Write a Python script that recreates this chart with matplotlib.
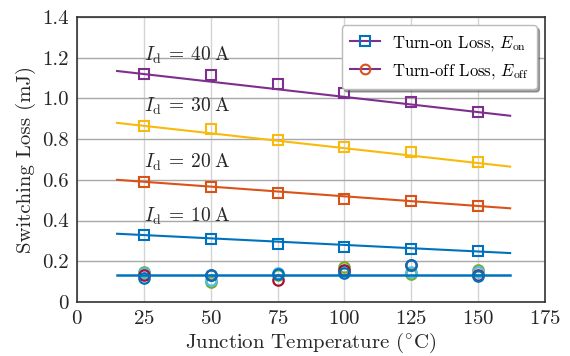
import matplotlib
matplotlib.use("Agg")
import matplotlib.pyplot as plt
from matplotlib.lines import Line2D
import numpy as np

plt.rcParams['font.family'] = 'serif'
plt.rcParams['font.serif'] = ['cmr10']
plt.rcParams['mathtext.fontset'] = 'cm'
plt.rcParams['axes.unicode_minus'] = False
plt.rcParams['axes.formatter.use_mathtext'] = True

temps = [25, 50, 75, 100, 125, 150]
currents = ["10", "20", "30", "40"]
eon_colors = ["#0072BD", "#D95319", "#F8BA0C", "#7E2F8E"]
eon = {
    "10": [0.33, 0.31, 0.285, 0.27, 0.26, 0.25],
    "20": [0.59, 0.565, 0.535, 0.505, 0.495, 0.47],
    "30": [0.865, 0.85, 0.795, 0.76, 0.735, 0.69],
    "40": [1.12, 1.115, 1.07, 1.025, 0.985, 0.935],
}
fit_x = [15, 162]
eon_fit = {
    "10": [0.335, 0.24],
    "20": [0.60, 0.46],
    "30": [0.88, 0.665],
    "40": [1.135, 0.915],
}
eoff_colors = ["#77AC30", "#4DBEEE", "#A2142F", "#0072BD"]
eoff = {
    "10": [0.149, 0.097, 0.13, 0.173, 0.136, 0.157],
    "20": [0.14, 0.11, 0.14, 0.15, 0.145, 0.145],
    "30": [0.13, 0.133, 0.11, 0.157, 0.18, 0.133],
    "40": [0.116, 0.133, 0.136, 0.14, 0.182, 0.126],
}
eoff_fit = [0.133, 0.133]
label_y = {"10": 0.422, "20": 0.688, "30": 0.963, "40": 1.213}

fig = plt.figure(figsize=(5.7, 3.56), dpi=100)
ax = fig.add_axes([0.135, 0.152, 0.821, 0.800])

for c, col in zip(currents, eoff_colors):
    ax.plot(temps, eoff[c], linestyle='none', marker='o', ms=7.5, mfc='none',
            mec=col, mew=1.6, zorder=3)
ax.plot(fit_x, eoff_fit, color="#0072BD", lw=1.8, zorder=4)

for c, col in zip(currents, eon_colors):
    ax.plot(fit_x, eon_fit[c], color=col, lw=1.5, zorder=3)
    ax.plot(temps, eon[c], linestyle='none', marker='s', ms=7.8, mfc='none',
            mec=col, mew=1.5, zorder=4)
    ax.text(25, label_y[c], r"$I_\mathrm{d}\:=\:%s\:\mathrm{A}$" % c,
            fontsize=14, ha='left', va='center', color='#262626', zorder=5)

ax.set_xlim(0, 175)
ax.set_ylim(0, 1.4)
ax.set_xticks(np.arange(0, 176, 25))
yt = [0, 0.2, 0.4, 0.6, 0.8, 1.0, 1.2, 1.4]
ax.set_yticks(yt)
ax.set_yticklabels(["0" if v == 0 else "%.1f" % v for v in yt])
ax.xaxis.grid(True, color='#d4d4d4', lw=1.0)
ax.yaxis.grid(True, color='#a8a8a8', lw=1.0)
ax.set_axisbelow(True)
ax.tick_params(direction='in', length=0, labelsize=15, colors='#262626', pad=6)
for s in ax.spines.values():
    s.set_color('#333333')
    s.set_linewidth(1.2)

ax.set_xlabel(r"Junction Temperature ($^{\circ}$C)", fontsize=15, color='#262626', labelpad=2)
ax.set_ylabel("Switching Loss (mJ)", fontsize=15, color='#262626', labelpad=4)

handles = [
    Line2D([], [], color="#7E2F8E", lw=1.5, marker='s', ms=7, mfc='none', mec="#0072BD", mew=1.5),
    Line2D([], [], color="#7E2F8E", lw=1.5, marker='o', ms=7, mfc='none', mec="#D95319", mew=1.5),
]
labels = [r"Turn-on Loss, $E_\mathrm{on}$", r"Turn-off Loss, $E_\mathrm{off}$"]
leg = ax.legend(handles, labels, loc='upper right', fontsize=12, fancybox=True,
                shadow=True, framealpha=1, edgecolor='#bbbbbb', handlelength=1.8,
                handletextpad=0.7, labelspacing=0.55, borderpad=0.5)
leg.set_zorder(10)

fig.savefig("out.png", dpi=100)
